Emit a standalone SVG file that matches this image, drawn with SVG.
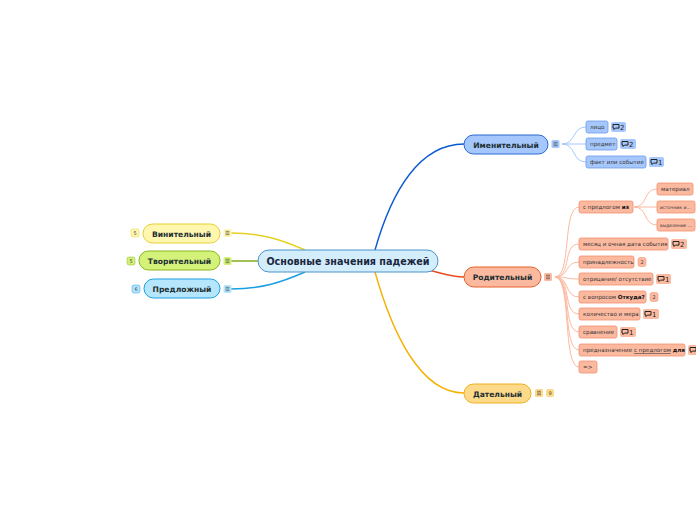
<svg xmlns="http://www.w3.org/2000/svg" width="696" height="520" viewBox="0 0 696 520">
<defs>
<style>
text{font-family:"DejaVu Sans","Liberation Sans",sans-serif;}
.main{font-size:7.6px;font-weight:bold;fill:#1d2f33;text-anchor:middle;}
.root{font-size:9.6px;font-weight:bold;fill:#1a2740;text-anchor:middle;}
.sub{font-size:5.6px;fill:#333;}
.sm{font-size:4.5px;fill:#333;}
.bt{font-size:5px;fill:#444;text-anchor:middle;}
.ct{font-size:7px;fill:#222;}
.conn{fill:none;}
.blue-s{fill:#a6c7fb;stroke:#6d9de8;stroke-width:0.8;}
.red-s{fill:#fbb9a0;stroke:#f4906c;stroke-width:0.8;}
</style>
<g id="bubble"><path d="M0,-3 h6 v3.6 h-3.6 l-1.4,1.4 v-1.4 h-1 z" fill="none" stroke="#222" stroke-width="1"/></g>
</defs>

<g id="connectors" class="conn">
<path d="M375,250 C392,190 420,144 464,144" stroke="#0b5ad3" stroke-width="1.4"/>
<path d="M428,270 C445,274 452,277 464,277" stroke="#ea4a1a" stroke-width="1.4"/>
<path d="M375,272 C392,332 420,393 464,393" stroke="#f6b000" stroke-width="1.4"/>
<path d="M305,250 C282,240 262,233 231,233" stroke="#e6d020" stroke-width="1.4"/>
<path d="M258,261 L231,261" stroke="#7aa812" stroke-width="1.4"/>
<path d="M305,272 C282,282 262,289 231,289" stroke="#1aa0e2" stroke-width="1.4"/>
<g stroke="#a6c7fb" stroke-width="1">
<path d="M562,144 C576,144 572,127 586,127"/>
<path d="M562,144 L586,144"/>
<path d="M562,144 C576,144 572,162 586,162"/>
</g>
<g stroke="#fbb9a0" stroke-width="1">
<path d="M555,277 C572,277 562,207 579,207"/>
<path d="M555,277 C572,277 562,244 579,244"/>
<path d="M555,277 C570,277 564,262 579,262"/>
<path d="M555,277 C568,277 566,279 579,279"/>
<path d="M555,277 C570,277 564,297 579,297"/>
<path d="M555,277 C572,277 562,314 579,314"/>
<path d="M555,277 C572,277 562,332 579,332"/>
<path d="M555,277 C572,277 562,350 579,350"/>
<path d="M555,277 C572,277 562,367 579,367"/>
<path d="M634,207 C648,207 643,189 657,189"/>
<path d="M634,207 L657,207"/>
<path d="M634,207 C648,207 643,225 657,225"/>
</g>
</g>

<g id="root">
<rect x="258" y="250" width="180" height="22" rx="11" fill="#d3edfb" stroke="#4a93cc" stroke-width="1"/>
<text class="root" x="348" y="264.5">Основные значения падежей</text>
</g>

<g id="imenitelny">
<rect x="464" y="135" width="84" height="19" rx="9.5" fill="#a6c7fb" stroke="#2a6ad0" stroke-width="1"/>
<text class="main" x="506" y="147.5">Именительный</text>
<rect x="551.5" y="140" width="8" height="8" rx="1.5" fill="#a6c7fb"/>
<path d="M553.5,142.3h4M553.5,144h4M553.5,145.7h4" stroke="#333" stroke-width="0.6"/>
</g>
<g id="im-lico">
<rect class="blue-s" x="586" y="121" width="22" height="12" rx="2"/>
<text class="sub" x="590" y="129">лицо</text>
<rect x="611" y="122" width="15" height="10" rx="2" fill="#a6c7fb"/>
<use href="#bubble" x="613" y="127.5"/><text class="ct" x="620" y="129.8">2</text>
</g>
<g id="im-predmet">
<rect class="blue-s" x="586" y="138" width="31" height="12" rx="2"/>
<text class="sub" x="590" y="146">предмет</text>
<rect x="620" y="139" width="16" height="10" rx="2" fill="#a6c7fb"/>
<use href="#bubble" x="622" y="144.5"/><text class="ct" x="629" y="146.8">2</text>
</g>
<g id="im-fakt">
<rect class="blue-s" x="586" y="156" width="60" height="12" rx="2"/>
<text class="sub" x="590" y="164">факт или событие</text>
<rect x="649" y="157" width="15" height="10" rx="2" fill="#a6c7fb"/>
<use href="#bubble" x="651" y="162.5"/><text class="ct" x="658" y="164.8">1</text>
</g>

<g id="roditelny">
<rect x="464" y="267" width="77" height="20" rx="10" fill="#fbb9a0" stroke="#e8602a" stroke-width="1"/>
<text class="main" x="502.5" y="280">Родительный</text>
<rect x="544" y="273" width="8" height="8" rx="1.5" fill="#fbb9a0"/>
<path d="M546,275.3h4M546,277h4M546,278.7h4" stroke="#333" stroke-width="0.6"/>
</g>
<g id="rod-iz">
<rect class="red-s" x="579" y="201" width="54" height="12" rx="2"/>
<text class="sub" x="583" y="209">с предлогом <tspan font-weight="bold" fill="#111">из</tspan></text>
</g>
<g id="rod-material">
<rect class="red-s" x="657" y="183" width="36" height="12" rx="2"/>
<text class="sub" x="661" y="191">материал</text>
</g>
<g id="rod-istochnik">
<rect class="red-s" x="657" y="201" width="38" height="12" rx="2"/>
<text class="sm" x="660" y="208.8">источник и...</text>
</g>
<g id="rod-vydelenie">
<rect class="red-s" x="657" y="219" width="38" height="12" rx="2"/>
<text class="sm" x="660" y="226.8">выделение ...</text>
</g>
<g id="rod-mesyac">
<rect class="red-s" x="579" y="238" width="89" height="12" rx="2"/>
<text class="sub" x="583" y="246">месяц и очная дата события</text>
<rect x="671" y="239" width="16" height="10" rx="2" fill="#fbb9a0"/>
<use href="#bubble" x="673" y="244.5"/><text class="ct" x="680" y="246.8">2</text>
</g>
<g id="rod-prinadl">
<rect class="red-s" x="579" y="256" width="55" height="12" rx="2"/>
<text class="sub" x="583" y="264">принадлежность</text>
<rect x="638" y="257.5" width="8" height="9" rx="2" fill="#fbb9a0" stroke="#f4906c" stroke-width="0.5"/>
<text class="bt" x="642" y="263.8">2</text>
</g>
<g id="rod-otric">
<rect class="red-s" x="579" y="273" width="74" height="12" rx="2"/>
<text class="sub" x="583" y="281">отрицание/ отсутствие</text>
<rect x="656" y="274" width="15" height="10" rx="2" fill="#fbb9a0"/>
<use href="#bubble" x="658" y="279.5"/><text class="ct" x="665" y="281.8">1</text>
</g>
<g id="rod-otkuda">
<rect class="red-s" x="579" y="291" width="67" height="12" rx="2"/>
<text class="sub" x="583" y="299">с вопросом <tspan font-weight="bold" fill="#111">Откуда?</tspan></text>
<rect x="650" y="292.5" width="8" height="9" rx="2" fill="#fbb9a0" stroke="#f4906c" stroke-width="0.5"/>
<text class="bt" x="654" y="298.8">2</text>
</g>
<g id="rod-kolichestvo">
<rect class="red-s" x="579" y="308" width="61" height="12" rx="2"/>
<text class="sub" x="583" y="316">количество и мера</text>
<rect x="643" y="309" width="16" height="10" rx="2" fill="#fbb9a0"/>
<use href="#bubble" x="645" y="314.5"/><text class="ct" x="652" y="316.8">1</text>
</g>
<g id="rod-sravnenie">
<rect class="red-s" x="579" y="326" width="38" height="12" rx="2"/>
<text class="sub" x="583" y="334">сравнение</text>
<rect x="620" y="327" width="16" height="10" rx="2" fill="#fbb9a0"/>
<use href="#bubble" x="622" y="332.5"/><text class="ct" x="629" y="334.8">1</text>
</g>
<g id="rod-prednaz">
<rect class="red-s" x="579" y="344" width="106" height="12" rx="2"/>
<text class="sub" x="583" y="352">предназначение <tspan text-decoration="underline">с предлогом</tspan> <tspan font-weight="bold" fill="#111">для</tspan></text>
<rect x="688" y="345" width="16" height="10" rx="2" fill="#fbb9a0"/>
<use href="#bubble" x="690" y="350.5"/>
</g>
<g id="rod-arrow">
<rect class="red-s" x="579" y="361" width="18" height="12" rx="2"/>
<text class="sub" x="583" y="369">=&gt;</text>
</g>

<g id="datelny">
<rect x="464" y="384" width="67" height="19" rx="9.5" fill="#fdd98a" stroke="#f0b020" stroke-width="1"/>
<text class="main" x="497.5" y="396.5">Дательный</text>
<rect x="535" y="389" width="8" height="8" rx="1.5" fill="#fdd98a"/>
<path d="M537,391.3h4M537,393h4M537,394.7h4" stroke="#333" stroke-width="0.6"/>
<rect x="546" y="389" width="8" height="8" rx="2" fill="#fdd98a"/>
<text class="bt" x="550" y="395">9</text>
</g>

<g id="vinitelny">
<rect x="143" y="224" width="77" height="19" rx="9.5" fill="#fff6b0" stroke="#e6d030" stroke-width="1"/>
<text class="main" x="181.5" y="236.5">Винительный</text>
<rect x="223.5" y="229" width="8" height="8" rx="1.5" fill="#fff6b0"/>
<path d="M225.5,231.3h4M225.5,233h4M225.5,234.7h4" stroke="#333" stroke-width="0.6"/>
<rect x="131" y="229" width="8" height="8" rx="2" fill="#fff6b0" stroke="#e6d030" stroke-width="0.5"/>
<text class="bt" x="135" y="235">5</text>
</g>

<g id="tvoritelny">
<rect x="139" y="251" width="81" height="19" rx="9.5" fill="#d4f27a" stroke="#88b818" stroke-width="1"/>
<text class="main" x="179.5" y="263.5">Творительный</text>
<rect x="223.5" y="257" width="8" height="8" rx="1.5" fill="#d4f27a"/>
<path d="M225.5,259.3h4M225.5,261h4M225.5,262.7h4" stroke="#333" stroke-width="0.6"/>
<rect x="127" y="257" width="8" height="8" rx="2" fill="#d4f27a" stroke="#88b818" stroke-width="0.5"/>
<text class="bt" x="131" y="263">5</text>
</g>

<g id="predlozhny">
<rect x="144" y="279" width="76" height="19" rx="9.5" fill="#b6e6fb" stroke="#1aa0e2" stroke-width="1"/>
<text class="main" x="182" y="291.5">Предложный</text>
<rect x="223.5" y="285" width="8" height="8" rx="1.5" fill="#b6e6fb"/>
<path d="M225.5,287.3h4M225.5,289h4M225.5,290.7h4" stroke="#333" stroke-width="0.6"/>
<rect x="132" y="285" width="8" height="8" rx="2" fill="#b6e6fb" stroke="#1aa0e2" stroke-width="0.5"/>
<text class="bt" x="136" y="291">6</text>
</g>
</svg>
